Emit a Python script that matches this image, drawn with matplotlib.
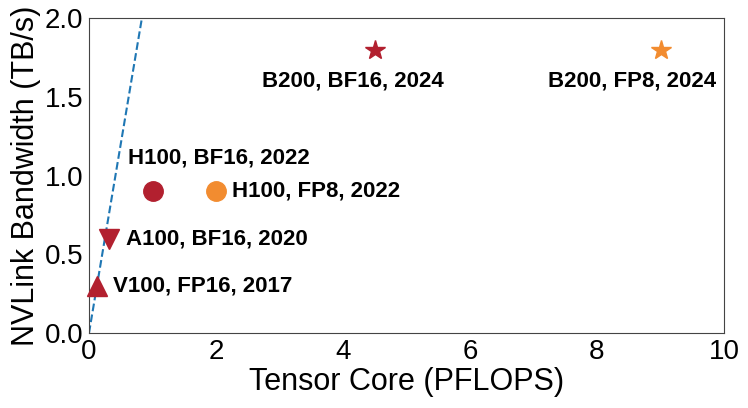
import numpy as np
import matplotlib
matplotlib.use("Agg")
import matplotlib.pyplot as plt

plt.rcParams['font.family'] = ['Liberation Sans', 'DejaVu Sans']

# GPU generations: tensor core throughput vs NVLink bandwidth
labels = ["V100, FP16, 2017", "A100, BF16, 2020", "H100, BF16, 2022",
          "H100, FP8, 2022", "B200, BF16, 2024", "B200, FP8, 2024"]
pflops = [0.125, 0.312, 1.0, 2.0, 4.5, 9.0]
bandwidth = [0.3, 0.6, 0.9, 0.9, 1.8, 1.8]
markers = ["^", "v", "o", "o", "*", "*"]
colors = ["#b2202f", "#b2202f", "#b2202f", "#f28c30", "#b2202f", "#f28c30"]
sizes = [15, 15, 14, 14, 15, 15]

# label offsets in pixels (dx, dy, ha)
offsets = [(16, 0, "left"), (17, 0, "left"), (-25, 33, "left"),
           (16, 0, "left"), (-22, -31, "center"), (-28, -31, "center")]

# dashed trend line through origin
trend_slope = 2.4
trend_x = np.array([0, 2.0 / trend_slope])

fig = plt.figure(figsize=(7.48, 4.08), dpi=100)
ax = fig.add_axes([89 / 748, 1 - 333 / 408, 635 / 748, 315 / 408])

ax.plot(trend_x, trend_slope * trend_x, ls="--", color="#1f77b4", lw=1.5, zorder=1)

for x, y, m, c, s, lab, (dx, dy, ha) in zip(pflops, bandwidth, markers, colors,
                                             sizes, labels, offsets):
    ax.plot(x, y, marker=m, color=c, markersize=s, ls="none", zorder=3,
            clip_on=False)
    ax.annotate(lab, (x, y), xytext=(dx, dy), textcoords="offset pixels",
                ha=ha, va="center", fontsize=16, fontweight="bold")

ax.set_xlim(0, 10)
ax.set_ylim(0, 2)
ax.set_xticks([0, 2, 4, 6, 8, 10])
ax.set_yticks([0, 0.5, 1.0, 1.5, 2.0])
ax.tick_params(length=0, labelsize=20, pad=4)
for sp in ax.spines.values():
    sp.set_color("#444444")
ax.set_xlabel("Tensor Core (PFLOPS)", fontsize=22, labelpad=2)
ax.set_ylabel("NVLink Bandwidth (TB/s)", fontsize=22, labelpad=3)

fig.savefig("out.png", dpi=100)
